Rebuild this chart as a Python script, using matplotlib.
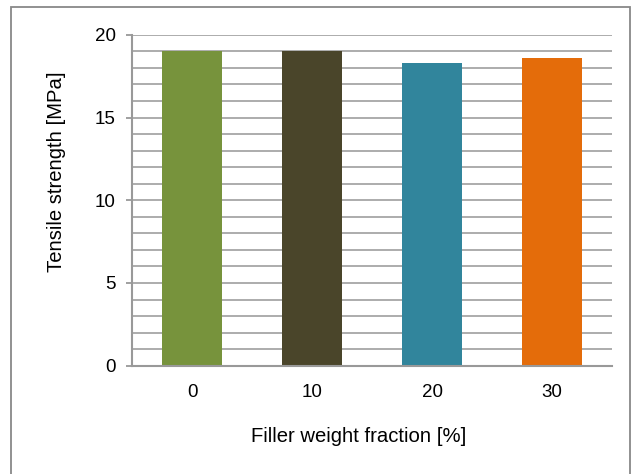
import matplotlib
matplotlib.use("Agg")
import matplotlib.pyplot as plt
from matplotlib.patches import Rectangle

plt.rcParams['font.family'] = ['Liberation Sans', 'DejaVu Sans']

# filler weight fraction and measured tensile strength
fractions = ["0", "10", "20", "30"]
strength = [19.0, 19.0, 18.27, 18.6]
colours = ["#77933C", "#4A452A", "#31859C", "#E46C0A"]

W, H = 636, 474
fig = plt.figure(figsize=(W / 100, H / 100), dpi=100)
ax = fig.add_axes([0.208, 0.2285, 0.754, 0.698])

x = range(len(fractions))
ax.bar(x, strength, width=0.5, color=colours, zorder=3)

ax.set_xlim(-0.5, len(fractions) - 0.5)
ax.set_ylim(0, 20)
ax.set_yticks([0, 5, 10, 15, 20])
ax.set_yticks(range(0, 21), minor=True)
ax.set_xticks(list(x))
ax.set_xticklabels(fractions)

grid = "#A6A6A6"
ax.grid(axis="y", which="both", color=grid, linewidth=1.3, zorder=0)
for s in ["top", "right"]:
    ax.spines[s].set_visible(False)
for s in ["left", "bottom"]:
    ax.spines[s].set_color("#999999")
    ax.spines[s].set_linewidth(1.5)
    ax.spines[s].set_zorder(4)

ax.tick_params(axis="y", which="major", length=4, width=1.3, color="#999999",
               labelsize=13.5, pad=8)
ax.tick_params(axis="y", which="minor", length=0)
ax.tick_params(axis="x", length=0, labelsize=13.5, pad=13)

# axis titles, placed like in the original sheet
fig.text(57 / W, 1 - 171.5 / H, "Tensile strength [MPa]", rotation=90,
         ha="center", va="center", fontsize=14.6)
fig.text(359 / W, 1 - 436 / H, "Filler weight fraction [%]",
         ha="center", va="center", fontsize=14.6)

# chart frame
fig.patches.append(Rectangle((11 / W, -0.05), 619 / W, 1.05 - 7 / H,
                             transform=fig.transFigure, fill=False,
                             edgecolor="#888888", linewidth=1.3))

fig.savefig("out.png", dpi=100)
